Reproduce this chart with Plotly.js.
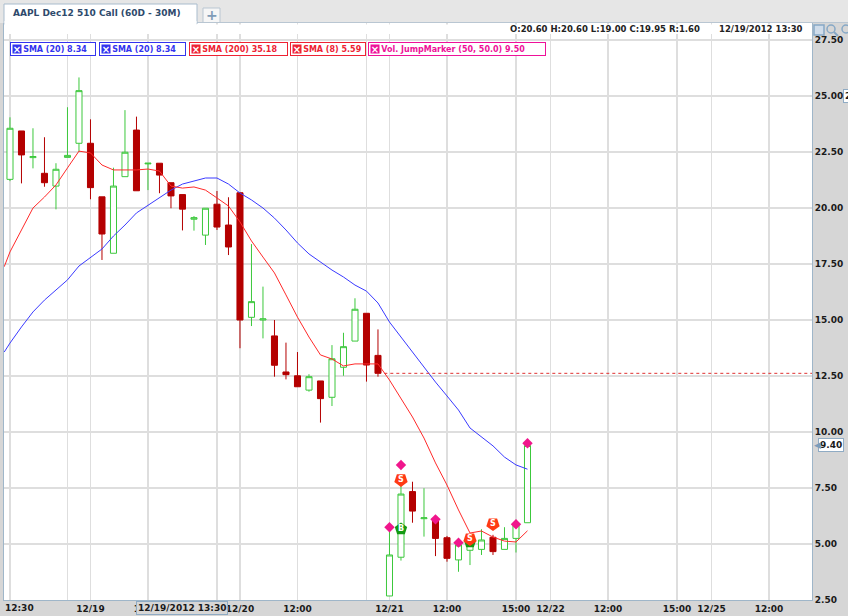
<!DOCTYPE html>
<html><head><meta charset="utf-8">
<script src="https://cdn.plot.ly/plotly-3.0.1.min.js"></script>
<style>html,body{margin:0;padding:0;background:#d6d6d6;overflow:hidden}#chart{width:848px;height:616px;}</style>
</head><body><div id="chart"></div>
<script>
// ---------------- DATA ----------------
const chartTitle = 'AAPL Dec12 510 Call (60D - 30M)';
const barX = [0,1,2,3,4,5,6,7,8,9,10,11,12,13,14,15,16,17,18,19,20,21,22,23,24,25,26,27,28,29,30,31,32,33,34,35,36,37,38,39,40,41,42,43,44,45];
const opens  = [21.28,23.44,22.25,21.55,20.98,22.26,22.89,22.89,20.50,17.98,21.40,23.48,21.97,22.00,21.13,20.60,19.50,18.79,20.17,19.24,20.68,15.12,15.00,14.29,12.68,12.51,11.87,12.28,11.55,12.89,14.06,15.30,13.42,2.68,4.41,7.34,6.13,6.04,5.28,4.29,4.72,4.76,5.30,4.76,5.25,5.95];
const highs  = [24.05,23.44,23.56,23.16,22.00,24.50,25.83,23.96,20.50,21.80,24.37,24.08,22.00,22.00,21.13,20.60,19.64,19.99,20.76,20.48,20.68,18.39,16.49,15.00,13.99,13.57,12.58,12.28,13.88,14.43,15.97,15.30,14.58,5.65,7.62,7.78,7.49,6.10,5.36,5.03,5.00,5.66,5.41,5.75,5.85,9.40];
const lows   = [21.20,21.10,21.77,20.95,19.94,22.26,22.51,20.39,17.68,17.98,21.40,20.77,20.80,20.66,19.99,19.00,18.99,18.35,19.02,17.90,13.74,14.73,14.18,12.47,12.35,12.02,11.80,10.42,11.16,12.51,14.06,12.25,12.47,2.68,4.26,5.95,5.33,4.46,4.21,3.76,4.06,4.51,4.51,4.76,4.62,5.95];
const closes = [23.56,22.37,22.30,21.13,21.73,22.35,25.24,20.91,18.84,20.98,22.49,20.77,22.00,21.47,20.54,19.95,19.57,19.99,19.15,18.26,15.00,15.82,15.05,12.98,12.56,12.02,12.47,11.49,13.27,13.81,15.48,12.99,12.62,4.51,7.23,6.47,6.17,5.25,4.36,4.96,4.95,5.18,4.66,5.25,5.85,9.40];

const smaX  = [-0.5,0,1,2,3,4,5,6,7,8,9,10,11,12,13,14,15,16,17,18,19,20,21,22,23,24,25,26,27,28,29,30,31,32,33,34,35,36,37,38,39,40,41,42,43,44,45];
const sma20 = [13.57,13.97,14.69,15.36,15.89,16.34,16.79,17.41,17.77,18.17,18.75,19.24,19.78,20.13,20.49,20.80,21.07,21.21,21.34,21.34,21.07,20.67,20.36,20.00,19.55,19.02,18.44,17.95,17.59,17.23,16.92,16.56,16.29,15.76,14.91,14.24,13.53,12.86,12.23,11.61,10.98,10.18,9.78,9.38,8.88,8.53,8.34];
const sma8  = [17.38,18.04,19.02,20.00,20.49,21.03,21.79,22.54,22.46,21.92,21.70,21.70,21.70,21.74,21.65,20.98,20.89,20.94,20.80,20.45,20.09,19.38,18.53,17.81,17.10,16.12,15.13,14.24,13.44,13.26,12.95,13.04,13.04,13.04,12.32,11.52,10.67,9.73,8.62,7.63,6.52,5.49,5.58,5.31,5.13,5.09,5.59];
const sma200Last = 35.18;

const volJumpX = [33,34,37,39,44,45];
const volJumpY = [5.75,8.53,6.10,5.06,5.88,9.50];
const buyX  = [34,40];
const buyY  = [5.67,5.09];
const sellX = [34,40,42];
const sellY = [7.86,5.22,5.89];

const xTickIdx  = [0,5,7,12,18,20,25,31,33,38,44,47,52,58,61,66];
const xTickText = ['','','12/19','12:00','','12/20','12:00','','12/21','12:00','15:00','12/22','12:00','15:00','12/25','12:00'];
const firstTickLabel = '12:30';
const yTicks = [2.5,5,7.5,10,12.5,15,17.5,20,22.5,25,27.5];

const prevDayLastBar = 32;
const crossBar = 15;
const crossLabel = '12/19/2012 13:30';

// ---------------- LAYOUT HELPERS ----------------
const PL=4, PR=812, PT=23, PB=600;
const fx = px => (px-PL)/(PR-PL);
const fy = py => (PB-py)/(PB-PT);
const FONT = 'DejaVu Sans, Verdana, sans-serif';
const GREEN='#3cc83c', RED='#b40000', BLUE='#3a3aff', SRED='#ff2a2a', PINK='#f0168c';

const traces = [
  {type:'candlestick', x:barX, open:opens, high:highs, low:lows, close:closes,
   increasing:{line:{color:GREEN,width:1}, fillcolor:'#ffffff'},
   decreasing:{line:{color:RED,width:1}, fillcolor:RED},
   whiskerwidth:0, hoverinfo:'skip'},
  {type:'scatter', mode:'lines', x:smaX, y:sma20, line:{color:BLUE,width:1}, hoverinfo:'skip'},
  {type:'scatter', mode:'lines', x:smaX, y:sma8, line:{color:SRED,width:1}, hoverinfo:'skip'},
  {type:'scatter', mode:'markers+text', x:buyX, y:buyY, text:buyX.map(()=>'B'), textposition:'middle center',
   textfont:{family:FONT,size:8,color:'#fff',weight:'bold'},
   marker:{symbol:'pentagon', size:13, color:'#139a13', line:{width:0}}, hoverinfo:'skip'},
  {type:'scatter', mode:'markers+text', x:sellX, y:sellY, text:sellX.map(()=>'S'), textposition:'middle center',
   textfont:{family:FONT,size:8,color:'#fff',weight:'bold'},
   marker:{symbol:'pentagon', angle:180, size:14, color:'#ff3a14', line:{width:0}}, hoverinfo:'skip'},
  {type:'scatter', mode:'markers', x:volJumpX, y:volJumpY,
   marker:{symbol:'diamond', size:8, color:PINK, line:{width:0}}, hoverinfo:'skip'}
];

const o=opens[crossBar], h=highs[crossBar], l=lows[crossBar], c=closes[crossBar];
const ohlcText = `O:${o.toFixed(2)} H:${h.toFixed(2)} L:${l.toFixed(2)} C:${c.toFixed(2)} R:${(h-l).toFixed(2)}`;
const lastClose = closes[closes.length-1];

const legendItems = [
  {label:`SMA (20) ${sma20[sma20.length-1].toFixed(2)}`, color:'#3333ee', left:10, w:86},
  {label:`SMA (20) ${sma20[sma20.length-1].toFixed(2)}`, color:'#3333ee', left:99, w:87},
  {label:`SMA (200) ${sma200Last.toFixed(2)}`, color:'#ee2233', left:189, w:99},
  {label:`SMA (8) ${sma8[sma8.length-1].toFixed(2)}`, color:'#ee2233', left:290, w:76},
  {label:`Vol. JumpMarker (50, 50.0) ${volJumpY[volJumpY.length-1].toFixed(2)}`, color:'#ee1199', left:368, w:178}
];

const annotations = [];
legendItems.forEach(it=>{
  annotations.push({xref:'paper',yref:'paper',x:fx(it.left),y:fy(49),xanchor:'left',yanchor:'middle',
    text:'&nbsp;&nbsp;&nbsp;&nbsp;'+it.label, showarrow:false, align:'left', width:it.w-4, height:10,
    bgcolor:'#ffffff', bordercolor:it.color, borderwidth:1, borderpad:1,
    font:{family:FONT,size:8,color:it.color,weight:'bold'}});
  annotations.push({xref:'paper',yref:'paper',x:fx(it.left+7),y:fy(49),xanchor:'center',yanchor:'middle',
    text:'×', showarrow:false, width:8, height:8, bgcolor:it.color, borderpad:0,
    font:{family:FONT,size:10,color:'#ffffff',weight:'bold'}});
});
annotations.push(
  {xref:'paper',yref:'paper',x:fx(11),y:fy(13),xanchor:'left',yanchor:'middle',showarrow:false,
   text:chartTitle, font:{family:FONT,size:9,color:'#2e4a6c',weight:'bold'}},
  {xref:'paper',yref:'paper',x:fx(211.5),y:fy(15),xanchor:'center',yanchor:'middle',showarrow:false,
   text:'+', font:{family:FONT,size:14,color:'#7f9cb8',weight:'bold'}},
  {xref:'paper',yref:'paper',x:fx(702),y:fy(29),xanchor:'right',yanchor:'middle',showarrow:false,
   text:ohlcText, font:{family:FONT,size:8.5,color:'#222',weight:'bold'}},
  {xref:'paper',yref:'paper',x:fx(805),y:fy(29),xanchor:'right',yanchor:'middle',showarrow:false,
   text:crossLabel, font:{family:FONT,size:8.5,color:'#222',weight:'bold'}},
  {xref:'paper',yref:'paper',x:fx(3),y:fy(601),xanchor:'left',yanchor:'top',showarrow:false,
   text:firstTickLabel, font:{family:FONT,size:9,color:'#1a1a1a',weight:'bold'}},
  {xref:'x',yref:'paper',x:crossBar,y:fy(601),xanchor:'center',yanchor:'top',showarrow:false,
   text:crossLabel, bgcolor:'#d6d6d6', bordercolor:'#8fabc4', borderwidth:1, borderpad:1,
   font:{family:FONT,size:9,color:'#1a1a1a',weight:'bold'}},
  {xref:'paper',yref:'y',x:fx(818),y:lastClose,xanchor:'left',yanchor:'middle',showarrow:false,
   text:lastClose.toFixed(2), bgcolor:'#ffffff', bordercolor:'#8fabc4', borderwidth:1, borderpad:1,
   font:{family:FONT,size:9,color:'#1a1a1a',weight:'bold'}},
  {xref:'paper',yref:'y',x:fx(812),y:lastClose,xanchor:'left',yanchor:'middle',showarrow:false,
   text:'◀', font:{family:FONT,size:9,color:'#7b9dbb'}},
  {xref:'paper',yref:'y',x:fx(843),y:25,xanchor:'left',yanchor:'middle',showarrow:false,
   text:'2', bgcolor:'#ffffff', bordercolor:'#8fabc4', borderwidth:1, borderpad:1,
   font:{family:FONT,size:9,color:'#1a1a1a',weight:'bold'}}
);

const shapes = [
  // top tab band
  {type:'rect',xref:'paper',yref:'paper',x0:fx(-5),x1:fx(853),y0:fy(23),y1:fy(-5),fillcolor:'#e6e6e6',line:{width:0},layer:'above'},
  {type:'line',xref:'paper',yref:'paper',x0:fx(4),x1:fx(848),y0:fy(22.5),y1:fy(22.5),line:{color:'#b9c6d2',width:1},layer:'above'},
  {type:'rect',xref:'paper',yref:'paper',x0:fx(4),x1:fx(197),y0:fy(24),y1:fy(4),fillcolor:'#ffffff',line:{color:'#a9bccd',width:1},layer:'above'},
  {type:'rect',xref:'paper',yref:'paper',x0:fx(4.5),x1:fx(196.5),y0:fy(25),y1:fy(21),fillcolor:'#ffffff',line:{width:0},layer:'above'},
  {type:'rect',xref:'paper',yref:'paper',x0:fx(203),x1:fx(220),y0:fy(22.5),y1:fy(8),fillcolor:'#f6f6f6',line:{color:'#b9c6d2',width:1},layer:'above'},
  // white strip holding OHLC readout
  {type:'rect',xref:'paper',yref:'paper',x0:fx(4.5),x1:fx(811.5),y0:fy(34),y1:fy(24.5),fillcolor:'#ffffff',line:{width:0},layer:'above'},
  // previous close dotted line
  {type:'line',xref:'x',yref:'y',x0:prevDayLastBar+0.55,x1:69.74,y0:closes[prevDayLastBar],y1:closes[prevDayLastBar],
   line:{color:'#e03030',width:1,dash:'dot'}},
  // right-panel icons
  {type:'rect',xref:'paper',yref:'paper',x0:fx(814),x1:fx(824),y0:fy(35),y1:fy(25),fillcolor:'#cfdcea',line:{color:'#86a8c6',width:1.5},layer:'above'},
  {type:'circle',xref:'paper',yref:'paper',x0:fx(827),x1:fx(835),y0:fy(33),y1:fy(25),fillcolor:'rgba(0,0,0,0)',line:{color:'#86a8c6',width:1.5},layer:'above'},
  {type:'line',xref:'paper',yref:'paper',x0:fx(834),x1:fx(838),y0:fy(32),y1:fy(36),line:{color:'#86a8c6',width:2},layer:'above'},
  {type:'circle',xref:'paper',yref:'paper',x0:fx(842),x1:fx(850),y0:fy(33),y1:fy(25),fillcolor:'rgba(0,0,0,0)',line:{color:'#86a8c6',width:1.5},layer:'above'}
];

const layout = {
  width:848, height:616,
  margin:{l:PL, r:848-PR, t:PT, b:616-PB, pad:0},
  paper_bgcolor:'#d6d6d6', plot_bgcolor:'#ffffff',
  showlegend:false, boxgap:0.25, dragmode:false,
  font:{family:FONT},
  xaxis:{range:[-0.52,69.74], tickmode:'array', tickvals:xTickIdx, ticktext:xTickText,
    showgrid:true, gridcolor:'#dedede', gridwidth:1.5, zeroline:false,
    showline:true, linecolor:'#9fb6c9', linewidth:1, mirror:true, ticks:'',
    rangeslider:{visible:false}, fixedrange:true,
    tickfont:{family:FONT,size:9,color:'#1a1a1a',weight:'bold'}},
  yaxis:{range:[2.5,28.26], side:'right', tickmode:'array', tickvals:yTicks, ticktext:yTicks.map(v=>v.toFixed(2)),
    showgrid:true, gridcolor:'#dedede', gridwidth:1.5, zeroline:false,
    showline:true, linecolor:'#9fb6c9', linewidth:1, mirror:true, ticks:'', fixedrange:true,
    tickfont:{family:FONT,size:9,color:'#1a1a1a',weight:'bold'}},
  annotations, shapes
};

Plotly.newPlot('chart', traces, layout, {staticPlot:true, displayModeBar:false});
</script></body></html>
